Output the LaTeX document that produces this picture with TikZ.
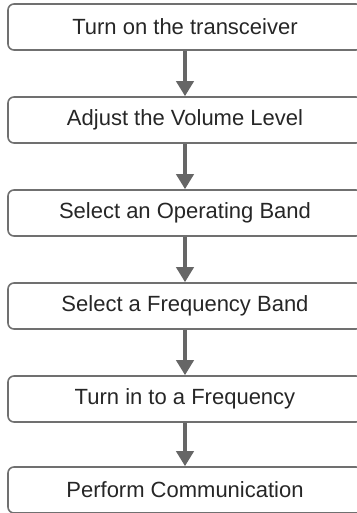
\documentclass[tikz,border=0pt]{standalone}
\usepackage{fontspec}
\setmainfont{Liberation Sans}
\usetikzlibrary{arrows.meta}
\definecolor{boxgray}{HTML}{707070}
\definecolor{arrgray}{HTML}{666666}
\tikzset{
	stepbox/.style={draw=boxgray,line width=1.6pt,rounded corners=6pt,minimum width=354pt,minimum height=46pt,inner sep=0pt,font=\fontsize{22}{26}\selectfont,text=black!85},
	flow/.style={draw=arrgray,line width=4pt,-{Triangle[width=17pt,length=15pt]}}
}
\begin{document}
\begin{tikzpicture}[x=1pt,y=1pt]
	\useasboundingbox (0,0) rectangle (356,-513);
	\node[stepbox] (on) at (185,-27) {Turn on the transceiver};
	\node[stepbox] (vol) at (185,-120) {Adjust the Volume Level};
	\node[stepbox] (opband) at (185,-213) {Select an Operating Band};
	\node[stepbox] (frband) at (185,-306) {Select a Frequency Band};
	\node[stepbox] (freq) at (185,-399) {Turn in to a Frequency};
	\node[stepbox] (comm) at (185,-490) {Perform Communication};
	\draw[flow] (on) -- (vol);
	\draw[flow] (vol) -- (opband);
	\draw[flow] (opband) -- (frband);
	\draw[flow] (frband) -- (freq);
	\draw[flow] (freq) -- (comm);
\end{tikzpicture}
\end{document}
